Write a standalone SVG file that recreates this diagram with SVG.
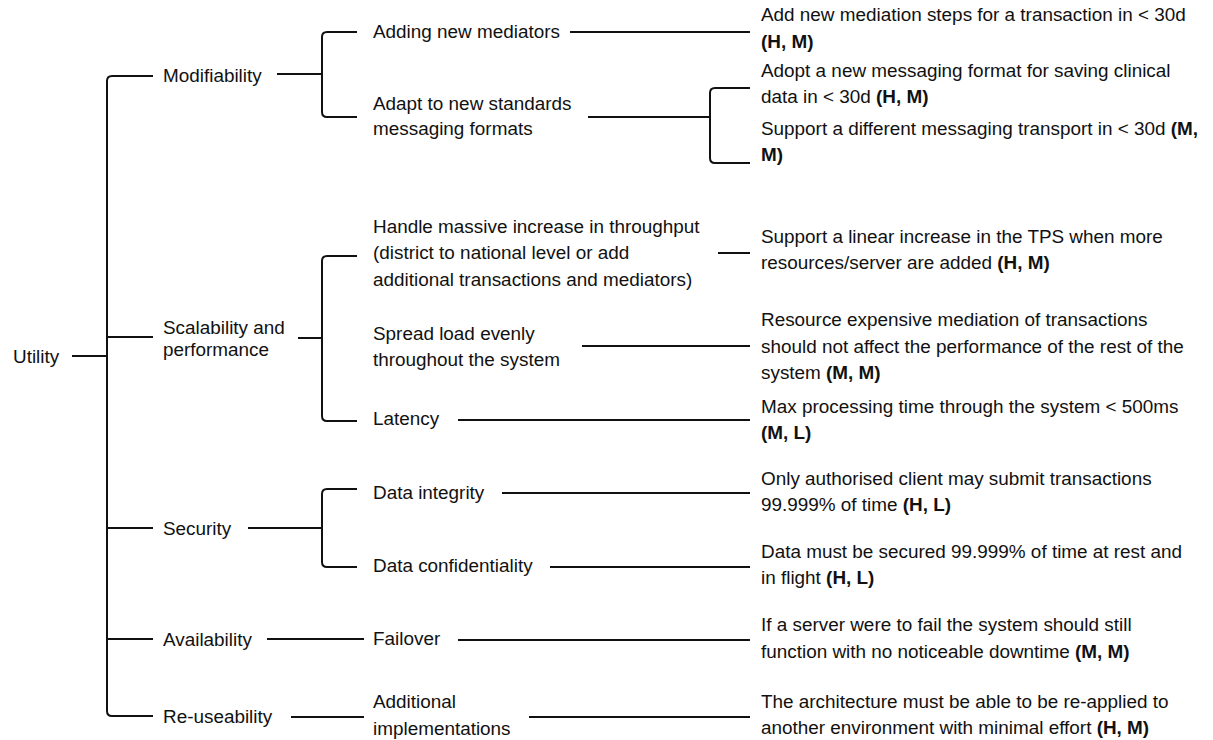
<svg xmlns="http://www.w3.org/2000/svg" width="1213" height="740" viewBox="0 0 1213 740">
<style>
text{font-family:"Liberation Sans",Arial,Helvetica,sans-serif;font-size:18.9px;fill:#111}
.b{font-weight:bold}
.c{fill:none;stroke:#111;stroke-width:2;stroke-linecap:butt}
</style>
<rect width="1213" height="740" fill="#fff"/>
<g id="connectors" class="c">
<path d="M72 356H107"/>
<path d="M153 76H112Q107 76 107 81V711Q107 716 112 716H153"/>
<path d="M107 337H153"/>
<path d="M107 528H153"/>
<path d="M107 639H153"/>
<path d="M277 74H322"/>
<path d="M357 32H327Q322 32 322 37V112Q322 117 327 117H357"/>
<path d="M298 338H322"/>
<path d="M357 256H327Q322 256 322 261V416Q322 421 327 421H357"/>
<path d="M248 528H322"/>
<path d="M357 489H327Q322 489 322 494V562Q322 567 327 567H357"/>
<path d="M267 639H364"/>
<path d="M291 717H364"/>
<path d="M570 32H750"/>
<path d="M588 117H710"/>
<path d="M750 88H715Q710 88 710 93V158Q710 163 715 163H750"/>
<path d="M718 253H750"/>
<path d="M582 346H750"/>
<path d="M458 420H750"/>
<path d="M502 493H750"/>
<path d="M550 567H750"/>
<path d="M458 640H750"/>
<path d="M529 717H750"/>
</g>
<g id="utility"><text x="13" y="363">Utility</text></g>
<g id="modifiability"><text x="163" y="82">Modifiability</text></g>
<g id="scalability"><text x="163" y="334">Scalability and</text><text x="163" y="356">performance</text></g>
<g id="security"><text x="163" y="535">Security</text></g>
<g id="availability"><text x="163" y="646">Availability</text></g>
<g id="reuseability"><text x="163" y="723">Re-useability</text></g>
<g id="adding-mediators"><text x="373" y="38">Adding new mediators</text></g>
<g id="adapt-standards"><text x="373" y="110">Adapt to new standards</text><text x="373" y="135">messaging formats</text></g>
<g id="throughput"><text x="373" y="233">Handle massive increase in throughput</text><text x="373" y="259">(district to national level or add</text><text x="373" y="286">additional transactions and mediators)</text></g>
<g id="spread-load"><text x="373" y="340">Spread load evenly</text><text x="373" y="366">throughout the system</text></g>
<g id="latency"><text x="373" y="425">Latency</text></g>
<g id="data-integrity"><text x="373" y="499">Data integrity</text></g>
<g id="data-confidentiality"><text x="373" y="572">Data confidentiality</text></g>
<g id="failover"><text x="373" y="645">Failover</text></g>
<g id="additional-impl"><text x="373" y="708">Additional</text><text x="373" y="735">implementations</text></g>
<g id="s-mediation"><text x="761" y="21">Add new mediation steps for a transaction in &lt; 30d</text><text x="761" y="48" class="b">(H, M)</text></g>
<g id="s-format"><text x="761" y="77">Adopt a new messaging format for saving clinical</text><text x="761" y="103">data in &lt; 30d <tspan class="b">(H, M)</tspan></text></g>
<g id="s-transport"><text x="761" y="135">Support a different messaging transport in &lt; 30d <tspan class="b">(M,</tspan></text><text x="761" y="161" class="b">M)</text></g>
<g id="s-tps"><text x="761" y="243">Support a linear increase in the TPS when more</text><text x="761" y="269">resources/server are added <tspan class="b">(H, M)</tspan></text></g>
<g id="s-resource"><text x="761" y="326">Resource expensive mediation of transactions</text><text x="761" y="353">should not affect the performance of the rest of the</text><text x="761" y="379">system <tspan class="b">(M, M)</tspan></text></g>
<g id="s-latency"><text x="761" y="413">Max processing time through the system &lt; 500ms</text><text x="761" y="439" class="b">(M, L)</text></g>
<g id="s-auth"><text x="761" y="485">Only authorised client may submit transactions</text><text x="761" y="511">99.999% of time <tspan class="b">(H, L)</tspan></text></g>
<g id="s-secured"><text x="761" y="558">Data must be secured 99.999% of time at rest and</text><text x="761" y="584">in flight <tspan class="b">(H, L)</tspan></text></g>
<g id="s-failover"><text x="761" y="631">If a server were to fail the system should still</text><text x="761" y="658">function with no noticeable downtime <tspan class="b">(M, M)</tspan></text></g>
<g id="s-reapply"><text x="761" y="708">The architecture must be able to be re-applied to</text><text x="761" y="734">another environment with minimal effort <tspan class="b">(H, M)</tspan></text></g>
</svg>
